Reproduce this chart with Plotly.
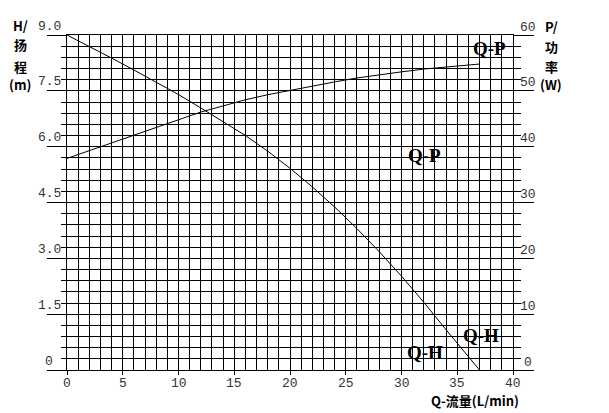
import plotly.graph_objects as go

# ---- data ----
q_flow = [0, 2, 4, 6, 8, 10, 12, 14, 16, 18, 20, 22, 24, 26, 28, 30, 32, 34, 36, 37]
head_m = [9.00, 8.70, 8.38, 8.06, 7.74, 7.40, 7.04, 6.68, 6.30, 5.88, 5.42, 4.92,
          4.38, 3.80, 3.18, 2.52, 1.82, 1.08, 0.36, 0.00]
power_w = [37.9, 39.3, 40.7, 42.1, 43.5, 44.9, 46.2, 47.3, 48.4, 49.3, 50.1, 50.9,
           51.6, 52.3, 52.9, 53.4, 53.9, 54.3, 54.6, 54.8]

x_ticks = [0, 5, 10, 15, 20, 25, 30, 35, 40]
x_tick_text = ["0", "5", "10", "15", "20", "25", "30", "35", "40"]
h_ticks = [0, 1.5, 3.0, 4.5, 6.0, 7.5, 9.0]
h_tick_text = ["0", "1.5", "3.0", "4.5", "6.0", "7.5", "9.0"]
p_ticks = [0, 10, 20, 30, 40, 50, 60]
p_tick_text = ["0", "10", "20", "30", "40", "50", "60"]

left_title = ["H/", "扬", "程", "(m)"]
right_title = ["P/", "功", "率", "(W)"]
x_title = "Q-流量(L/min)"

# curve labels: (text, Q, H)
curve_labels = [("Q-P", 37.9, 8.65), ("Q-P", 32.1, 5.75),
                ("Q-H", 37.1, 0.94), ("Q-H", 32.1, 0.46)]

TICK_FONT = dict(family="Liberation Mono", size=13, color="#333333")
TITLE_FONT = dict(family="Noto Sans CJK SC", size=13, color="black")
LABEL_FONT = dict(family="Liberation Serif", size=19, color="black")

fig = go.Figure()
fig.add_trace(go.Scatter(x=q_flow, y=head_m, mode="lines",
                         line=dict(color="black", width=1), yaxis="y",
                         showlegend=False, hoverinfo="skip"))
fig.add_trace(go.Scatter(x=q_flow, y=power_w, mode="lines",
                         line=dict(color="black", width=1), yaxis="y2",
                         showlegend=False, hoverinfo="skip"))

annotations = []
for v, t in zip(h_ticks, h_tick_text):
    annotations.append(dict(text=t, xref="paper", x=0, yref="y", y=v,
                            xanchor="center", yanchor="middle", xshift=-18, yshift=9,
                            showarrow=False, font=TICK_FONT))
for v, t in zip(p_ticks, p_tick_text):
    annotations.append(dict(text=t, xref="paper", x=1, yref="y2", y=v,
                            xanchor="center", yanchor="middle", xshift=15, yshift=8,
                            showarrow=False, font=TICK_FONT))
for v, t in zip(x_ticks, x_tick_text):
    annotations.append(dict(text=t, xref="x", x=v, yref="paper", y=0,
                            xanchor="center", yanchor="middle", yshift=-13,
                            showarrow=False, font=TICK_FONT))

for i, t in enumerate(left_title):
    annotations.append(dict(text="<b>%s</b>" % t, xref="paper", x=0, yref="paper", y=1,
                            xanchor="center", yanchor="middle", xshift=-47,
                            yshift=10 - [0, 19, 41, 59][i],
                            showarrow=False, font=TITLE_FONT))
for i, t in enumerate(right_title):
    annotations.append(dict(text="<b>%s</b>" % t, xref="paper", x=1, yref="paper", y=1,
                            xanchor="center", yanchor="middle", xshift=38,
                            yshift=9 - [0, 20, 40, 58][i],
                            showarrow=False, font=TITLE_FONT))
annotations.append(dict(text="<b>%s</b>" % x_title, xref="paper", x=0.914, yref="paper", y=0,
                        xanchor="center", yanchor="middle", yshift=-30,
                        showarrow=False, font=TITLE_FONT))
for t, qx, hy in curve_labels:
    annotations.append(dict(text="<b>%s</b>" % t, xref="x", x=qx, yref="y", y=hy,
                            xanchor="center", yanchor="middle",
                            showarrow=False, font=LABEL_FONT))

# the page body has an 8px margin, so the figure is placed at (8, 8)
fig.update_layout(
    width=601, height=405,
    margin=dict(l=59, r=96, t=27, b=43, autoexpand=False),
    paper_bgcolor="white", plot_bgcolor="white",
    showlegend=False,
    annotations=annotations,
    xaxis=dict(range=[0, 40], tickmode="array", tickvals=x_ticks, showticklabels=False,
               ticks="outside", ticklen=4, tickcolor="black", tickwidth=1,
               showgrid=True, gridcolor="black", gridwidth=1,
               minor=dict(dtick=1, tick0=0, showgrid=True, gridcolor="black", gridwidth=1),
               showline=True, linecolor="black", linewidth=1, mirror=True,
               zeroline=False, fixedrange=True, automargin=False),
    yaxis=dict(range=[0, 9], tickmode="array", tickvals=h_ticks, showticklabels=False,
               ticks="outside", ticklen=19, tickcolor="black", tickwidth=1,
               showgrid=True, gridcolor="black", gridwidth=1,
               minor=dict(dtick=0.3, tick0=0, ticks="outside", ticklen=5, tickcolor="black",
                          showgrid=True, gridcolor="black", gridwidth=1),
               showline=True, linecolor="black", linewidth=1, mirror=True,
               zeroline=False, fixedrange=True, automargin=False),
    yaxis2=dict(range=[0, 60], overlaying="y", side="right", tickmode="array",
                tickvals=p_ticks, showticklabels=False,
                ticks="outside", ticklen=20, tickcolor="black", tickwidth=1,
                showgrid=False,
                minor=dict(dtick=2, tick0=0, ticks="outside", ticklen=7, tickcolor="black",
                           showgrid=False),
                showline=True, linecolor="black", linewidth=1,
                zeroline=False, fixedrange=True, automargin=False),
)

fig.write_html("out.html")
